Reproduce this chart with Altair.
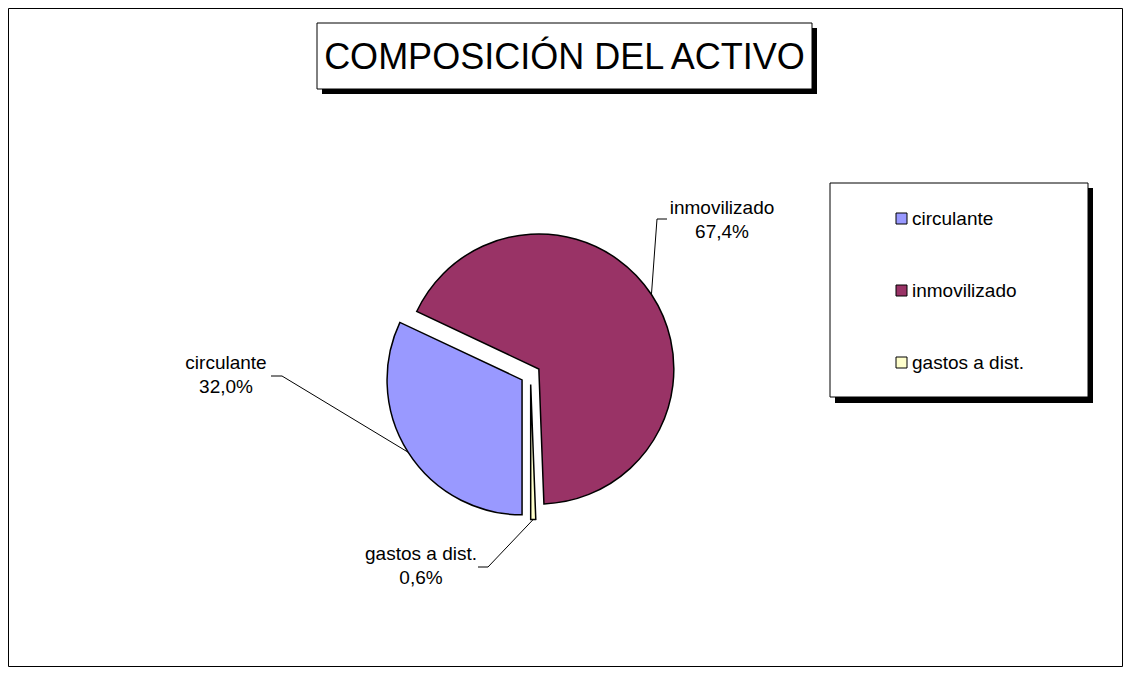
import altair as alt
import numpy as np
import pandas as pd

# ---------------- data ----------------
categories = ["circulante", "inmovilizado", "gastos a dist."]
shares = [32.0, 67.4, 0.6]
colors = ["#9999FF", "#993366", "#FFFFCC"]
title_text = "COMPOSICIÓN DEL ACTIVO"

# ---------------- layout / style ----------------
M = 8                      # page margin (page coords -> svg coords)
W, H = 1115, 659
FONT = "Liberation Sans"
LABEL_SIZE = 19
FIRST_ANGLE = 180          # angle of first slice (deg, clockwise from 12 o'clock)
CX, CY = 530.5 - M, 374.5 - M
R = 135
EXPLODE = 10

# label first-line centres and leader elbows/ends (page coords)
label_layout = {
    "circulante":     dict(lx=226, ly=363, ex=282, ey=376, tx=271, ty=376),
    "inmovilizado":   dict(lx=722, ly=208, ex=657, ey=219, tx=667, ty=219),
    "gastos a dist.": dict(lx=421, ly=554, ex=488, ey=567, tx=478, ty=567),
}

total = float(sum(shares))
cum = np.concatenate([[0.0], np.cumsum(shares)])
t0 = np.radians(FIRST_ANGLE + cum[:-1] / total * 360)
t1 = np.radians(FIRST_ANGLE + cum[1:] / total * 360)
mid = (t0 + t1) / 2

pie_df = pd.DataFrame({
    "category": categories,
    "value": shares,
    "t0": t0,
    "t1": t1,
    "cx": CX + EXPLODE * np.sin(mid),
    "cy": CY - EXPLODE * np.cos(mid),
    "label": [c + "\n" + f"{v:.1f}".replace(".", ",") + "%" for c, v in zip(categories, shares)],
    "lx": [label_layout[c]["lx"] - M for c in categories],
    "ly": [label_layout[c]["ly"] - M for c in categories],
})

rows = []
for c, m in zip(categories, mid):
    L = label_layout[c]
    ax = CX + (R + EXPLODE) * np.sin(m)
    ay = CY - (R + EXPLODE) * np.cos(m)
    rows.append(dict(category=c, ord=0, px=ax, py=ay))
    rows.append(dict(category=c, ord=1, px=L["ex"] - M, py=L["ey"] - M))
    rows.append(dict(category=c, ord=2, px=L["tx"] - M, py=L["ty"] - M))
leader_df = pd.DataFrame(rows)

one = pd.DataFrame({"a": [0]})


def box(x1, y1, x2, y2, fill, stroke=None):
    kw = dict(fill=fill)
    if stroke:
        kw.update(stroke=stroke, strokeWidth=1)
    return alt.Chart(one).mark_rect(**kw).encode(
        x=alt.value(x1 - M), x2=alt.value(x2 - M),
        y=alt.value(y1 - M), y2=alt.value(y2 - M))


frame = alt.Chart(one).mark_rect(fill="white", stroke="black", strokeWidth=1).encode(
    x=alt.value(0.5), x2=alt.value(W - 0.5), y=alt.value(0.5), y2=alt.value(H - 0.5))

title_shadow = box(322, 28, 817, 94, "black")
title_box = box(317, 23, 812, 89, "white", "black")
title = alt.Chart(one).mark_text(
    text=title_text, font=FONT, fontSize=36, color="black",
    align="center", baseline="middle").encode(
    x=alt.value(564.5 - M), y=alt.value(57.5 - M))

legend_shadow = box(835, 188, 1093, 403, "black")
legend_box = box(830, 183, 1088, 397, "white", "black")

arcs = alt.Chart(pie_df).mark_arc(radius=R, stroke="black", strokeWidth=1.5).encode(
    theta=alt.Theta("t0:Q", scale=None, stack=None),
    theta2="t1:Q",
    x=alt.X("cx:Q", scale=None, axis=None),
    y=alt.Y("cy:Q", scale=None, axis=None),
    color=alt.Color(
        "category:N",
        sort=categories,
        scale=alt.Scale(domain=categories, range=colors),
        legend=alt.Legend(
            title=None, orient="none", legendX=892 - M, legendY=209 - M,
            symbolType="square", symbolSize=121, symbolStrokeColor="black",
            symbolStrokeWidth=1, symbolOpacity=1, labelFont=FONT, labelFontSize=LABEL_SIZE,
            labelColor="black", labelOffset=1, rowPadding=52, padding=0,
        ),
    ),
)

leaders = alt.Chart(leader_df).mark_line(color="black", strokeWidth=1).encode(
    x=alt.X("px:Q", scale=None, axis=None),
    y=alt.Y("py:Q", scale=None, axis=None),
    detail="category:N",
    order="ord:Q",
)

labels = alt.Chart(pie_df).mark_text(
    font=FONT, fontSize=LABEL_SIZE, lineHeight=24, color="black",
    align="center", baseline="middle", lineBreak="\n").encode(
    x=alt.X("lx:Q", scale=None, axis=None),
    y=alt.Y("ly:Q", scale=None, axis=None),
    text="label:N",
)

chart = alt.layer(
    frame, title_shadow, title_box, title, legend_shadow, legend_box,
    leaders, arcs, labels,
).properties(
    width=W, height=H, padding=0, autosize=alt.AutoSizeParams(type="none"),
).configure_view(stroke=None)

chart.save("out.html", embed_options={"renderer": "svg", "actions": False})
